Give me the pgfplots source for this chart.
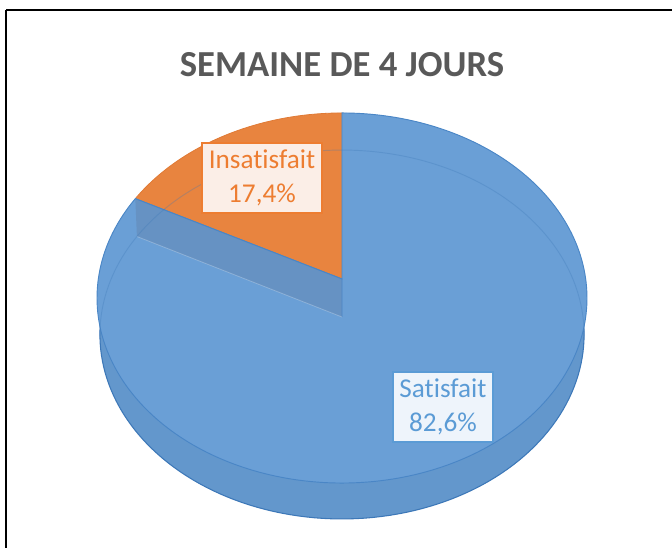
\documentclass[border=0pt]{standalone}
\usepackage{fontspec}
\setmainfont{Carlito}[Ligatures=NoCommon]
\usepackage{pgfplots}
\pgfplotsset{compat=1.18}
\usetikzlibrary{shadows}
\definecolor{topblue}{HTML}{6A9FD6}
\definecolor{topedge}{HTML}{4A86C6}
\definecolor{rimdark}{HTML}{3D78B8}
\definecolor{orangetop}{HTML}{E8843F}
\definecolor{orangeedge}{HTML}{E07A35}
\definecolor{wallblue}{HTML}{6692C3}
\definecolor{sidemid}{HTML}{6397CC}
\definecolor{sidedark}{HTML}{2F5A86}
\definecolor{titlegray}{HTML}{595959}
\definecolor{satblue}{HTML}{5B9BD5}
\definecolor{satfill}{HTML}{EEF4FB}
\definecolor{insorange}{HTML}{ED7D31}
\definecolor{insfill}{HTML}{FBEEE7}
\pgfdeclarehorizontalshading{sideshade}{100bp}{color(0bp)=(sidedark); color(4bp)=(sidedark!55!sidemid); color(16bp)=(sidemid); color(84bp)=(sidemid); color(96bp)=(sidedark!55!sidemid); color(100bp)=(sidedark)}
% data (percent)
\def\vIns{17.4}
\def\vSat{82.6}
% projection of the pie (top face and bottom face)
\def\cxT{342}\def\cyT{268}\def\AT{243.7}\def\BT{183.1}\def\kT{0.1027}
\def\cyB{230}\def\AB{241}\def\BB{182.8}\def\kB{0.0949}
\pgfmathsetmacro{\aStart}{90}
\pgfmathsetmacro{\aMid}{90+\vIns*3.6}
\pgfmathsetmacro{\aEnd}{\aMid+\vSat*3.6}
\pgfmathsetmacro{\wxT}{\cxT+\AT*cos(\aMid)/(1+\kT*sin(\aMid))}
\pgfmathsetmacro{\wyT}{\cyT+\BT*sin(\aMid)/(1+\kT*sin(\aMid))}
\pgfmathsetmacro{\wxB}{\cxT+\AB*cos(\aMid)/(1+\kB*sin(\aMid))}
\pgfmathsetmacro{\wyB}{\cyB+\BB*sin(\aMid)/(1+\kB*sin(\aMid))}
\begin{document}
\begin{tikzpicture}
\begin{axis}[scale only axis, width=504pt, height=410.25pt,
  xmin=0, xmax=672, ymin=0, ymax=547, hide axis, clip=true]
\path (axis cs:0,0) rectangle (axis cs:672,547);
% bottom face / side
\addplot[shade, shading=sideshade, draw=rimdark, line width=0.8pt,
  domain=0:360, samples=200, variable=\t]
  ({\cxT+\AB*cos(\t)/(1+\kB*sin(\t))},{\cyB+\BB*sin(\t)/(1+\kB*sin(\t))}) -- cycle;
% top faces
\addplot[fill=orangetop, draw=none, domain=\aStart:\aMid, samples=60, variable=\t]
  ({\cxT+\AT*cos(\t)/(1+\kT*sin(\t))},{\cyT+\BT*sin(\t)/(1+\kT*sin(\t))}) -- (axis cs:\cxT,\cyT) -- cycle;
\addplot[draw=orangeedge, line width=0.6pt, domain=\aStart:\aMid, samples=60, variable=\t]
  ({\cxT+\AT*cos(\t)/(1+\kT*sin(\t))},{\cyT+\BT*sin(\t)/(1+\kT*sin(\t))});
\addplot[fill=topblue, draw=topedge, line width=0.7pt, domain=\aMid:\aEnd, samples=240, variable=\t]
  ({\cxT+\AT*cos(\t)/(1+\kT*sin(\t))},{\cyT+\BT*sin(\t)/(1+\kT*sin(\t))}) -- (axis cs:\cxT,\cyT) -- cycle;
% inner wall seen through the translucent top
\addplot[fill=wallblue, draw=none] coordinates {(\cxT,\cyT) (\wxT,\wyT) (\wxB,\wyB) (\cxT,\cyB)} -- cycle;
\addplot[draw=topedge, line width=0.7pt] coordinates {(\wxT,\wyT) (\cxT,\cyT) (\cxT,\cyB)};
\addplot[draw=white, opacity=0.25, line width=0.6pt] coordinates {(\wxB,\wyB) (\cxT,\cyB)};
% back part of bottom rim seen through
\addplot[draw=rimdark, opacity=0.3, line width=0.7pt, domain=-6:186, samples=120, variable=\t]
  ({\cxT+\AB*cos(\t)/(1+\kB*sin(\t))},{\cyB+\BB*sin(\t)/(1+\kB*sin(\t))});
% frame
\draw[line width=1.5pt, black] (axis cs:6,537) -- (axis cs:700,537);
\draw[line width=1.5pt, black] (axis cs:6,537) -- (axis cs:6,-20);
% title
\node[anchor=base, text=titlegray, font=\bfseries\fontsize{27.5}{32}\selectfont] at (axis cs:342,470) {SEMAINE DE 4 JOURS};
% labels
\node[fill=insfill, draw=insorange, line width=0.8pt, text=insorange, align=center,
  minimum width=90pt, minimum height=52.5pt, inner sep=0pt,
  font=\fontsize{20.4}{25.5}\selectfont,
  drop shadow={shadow xshift=1pt, shadow yshift=-1pt, opacity=0.3}]
  at (axis cs:262,369) {Insatisfait\\17,4\%};
\node[fill=satfill, draw=satblue, line width=0.8pt, text=satblue, align=center,
  minimum width=75pt, minimum height=52.5pt, inner sep=0pt,
  font=\fontsize{20.4}{25.5}\selectfont,
  drop shadow={shadow xshift=1pt, shadow yshift=-1pt, opacity=0.3}]
  at (axis cs:443,140) {Satisfait\\82,6\%};
\end{axis}
\end{tikzpicture}
\end{document}
